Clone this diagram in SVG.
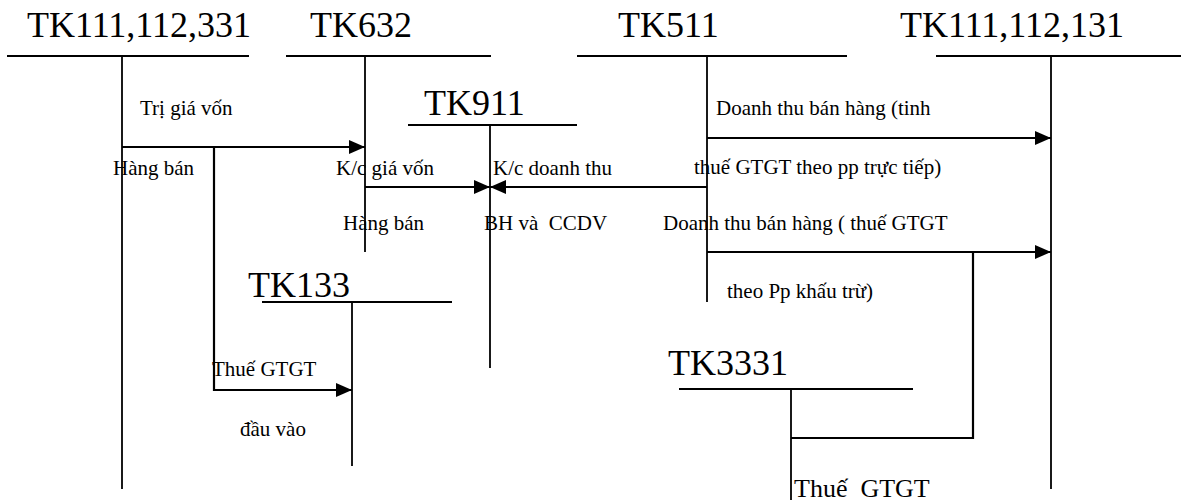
<svg xmlns="http://www.w3.org/2000/svg" width="1186" height="501" viewBox="0 0 1186 501">
<defs>
<style>
.t{font-family:"Liberation Serif","Times New Roman",serif;font-size:36px;fill:#000}
.s{font-family:"Liberation Serif","Times New Roman",serif;font-size:21px;fill:#000;white-space:pre}
.ln{stroke:#000;stroke-width:1.8;fill:none}
.ar{stroke:#000;stroke-width:2.2;fill:none}
</style>
<marker id="ah" markerUnits="userSpaceOnUse" markerWidth="17" markerHeight="15" refX="16" refY="7" orient="auto">
<path d="M0,0 L16,7 L0,14 z" fill="#000"/>
</marker>
</defs>
<rect width="1186" height="501" fill="#fff"/>
<g id="tk111-112-331">
<text class="t" x="27" y="37">TK111,112,331</text>
<line class="ln" x1="7" y1="56" x2="249" y2="56"/>
<line class="ln" x1="122" y1="56" x2="122" y2="489"/>
</g>
<g id="tk632">
<text class="t" x="310" y="37">TK632</text>
<line class="ln" x1="286" y1="56" x2="491" y2="56"/>
<line class="ln" x1="365" y1="56" x2="365" y2="252"/>
</g>
<g id="tk511">
<text class="t" x="618" y="37">TK511</text>
<line class="ln" x1="577" y1="56" x2="847" y2="56"/>
<line class="ln" x1="707" y1="56" x2="707" y2="302"/>
</g>
<g id="tk111-112-131">
<text class="t" x="900" y="37">TK111,112,131</text>
<line class="ln" x1="936" y1="56" x2="1181" y2="56"/>
<line class="ln" x1="1051" y1="56" x2="1051" y2="489"/>
</g>
<g id="tk911">
<text class="t" x="424" y="115">TK911</text>
<line class="ln" x1="408" y1="125" x2="577" y2="125"/>
<line class="ln" x1="490" y1="125" x2="490" y2="368"/>
</g>
<g id="tk133">
<text class="t" x="248" y="297">TK133</text>
<line class="ln" x1="262" y1="302" x2="452" y2="302"/>
<line class="ln" x1="352" y1="302" x2="352" y2="466"/>
</g>
<g id="tk3331">
<text class="t" x="668" y="375">TK3331</text>
<line class="ln" x1="679" y1="389" x2="913" y2="389"/>
<line class="ln" x1="791" y1="389" x2="791" y2="500"/>
</g>
<g id="connectors">
<line class="ar" x1="122" y1="147" x2="365" y2="147" marker-end="url(#ah)"/>
<polyline class="ar" points="214,147 214,390 352,390" marker-end="url(#ah)"/>
<line class="ar" x1="365" y1="187" x2="490" y2="187" marker-end="url(#ah)"/>
<line class="ar" x1="707" y1="187" x2="490" y2="187" marker-end="url(#ah)"/>
<line class="ar" x1="707" y1="138" x2="1051" y2="138" marker-end="url(#ah)"/>
<line class="ar" x1="707" y1="252" x2="1051" y2="252" marker-end="url(#ah)"/>
<polyline class="ar" points="973,252 973,438 791,438"/>
</g>
<g id="labels">
<text class="s" x="140" y="115">Trị giá vốn</text>
<text class="s" x="113" y="175">Hàng bán</text>
<text class="s" x="336" y="175">K/c giá vốn</text>
<text class="s" x="343" y="230">Hàng bán</text>
<text class="s" x="493" y="175">K/c doanh thu</text>
<text class="s" x="484" y="230">BH và  CCDV</text>
<text class="s" x="716" y="115">Doanh thu bán hàng (tinh</text>
<text class="s" x="694" y="174">thuế GTGT theo pp trực tiếp)</text>
<text class="s" x="663" y="230">Doanh thu bán hàng ( thuế GTGT</text>
<text class="s" x="727" y="298">theo Pp khấu trừ)</text>
<text class="s" x="212" y="376">Thuế GTGT</text>
<text class="s" x="240" y="436">đầu vào</text>
<text class="s" x="794" y="497" style="font-size:26px">Thuế  GTGT</text>
</g>
</svg>
